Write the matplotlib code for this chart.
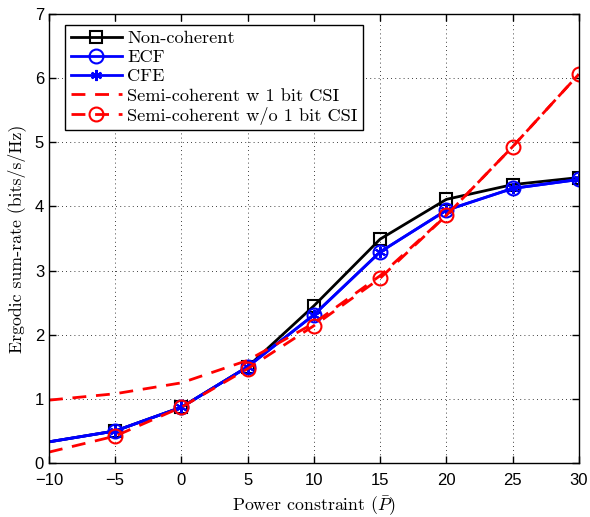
import matplotlib
matplotlib.use("Agg")
import matplotlib.pyplot as plt

x = [-10, -5, 0, 5, 10, 15, 20, 25, 30]
non_coherent = [0.33, 0.50, 0.87, 1.50, 2.45, 3.49, 4.11, 4.34, 4.45]
ecf = [0.33, 0.50, 0.87, 1.50, 2.31, 3.29, 3.94, 4.28, 4.42]
cfe = [0.33, 0.50, 0.87, 1.50, 2.31, 3.29, 3.94, 4.28, 4.42]
semi_w = [0.98, 1.08, 1.25, 1.60, 2.18, 2.92, 3.86, 4.93, 6.06]
semi_wo = [0.17, 0.42, 0.87, 1.47, 2.14, 2.88, 3.86, 4.93, 6.06]

xticks = [-10, -5, 0, 5, 10, 15, 20, 25, 30]
yticks = [0, 1, 2, 3, 4, 5, 6, 7]

plt.rcParams['mathtext.fontset'] = 'cm'
serif = ['cmr10', 'DejaVu Serif']

fig = plt.figure(figsize=(5.9, 5.17), dpi=100)
ax = fig.add_axes([0.083, 0.1044, 0.898, 0.8686])

me = list(range(1, len(x)))
ax.plot(x, non_coherent, '-', color='black', lw=2, marker='s', ms=9, mfc='none', mew=1.5,
        markevery=me, label='Non-coherent')
ax.plot(x, ecf, '-', color='blue', lw=2, marker='o', ms=10, mfc='none', mew=1.5,
        markevery=me, label='ECF')
ax.plot(x, cfe, '-', color='blue', lw=2, marker=(6, 2, 0), ms=8, mew=1.5,
        markevery=me, label='CFE')
ax.plot(x, semi_w, '--', color='red', lw=2, dashes=(5, 3.5), label='Semi-coherent w 1 bit CSI')
ax.plot(x, semi_wo, '--', color='red', lw=2, dashes=(5, 3.5), marker='o', ms=10, mfc='none',
        mew=1.5, markevery=me, label='Semi-coherent w/o 1 bit CSI')

ax.set_xlim(-10, 30)
ax.set_ylim(0, 7)
ax.set_xticks(xticks)
ax.set_yticks(yticks)
ax.set_xticklabels(['\u221210' if v == -10 else ('\u22125' if v == -5 else str(v)) for v in xticks],
                   family='Liberation Sans', fontsize=12)
ax.set_yticklabels([str(v) for v in yticks], family='Liberation Sans', fontsize=12)
ax.tick_params(direction='in', top=True, right=True, length=5, width=1)
ax.tick_params(axis='x', pad=7)
ax.grid(True, color='black', linestyle=(0, (1, 4)), linewidth=0.6)
for s in ax.spines.values():
    s.set_linewidth(1.0)

ax.set_xlabel(r'Power constraint ($\bar{P}$)', family=serif, fontsize=12.8, labelpad=5)
ax.set_ylabel('Ergodic sum-rate (bits/s/Hz)', family=serif, fontsize=12.8, labelpad=6)

leg = ax.legend(loc='upper left', bbox_to_anchor=(0.02, 0.988), prop={'family': serif, 'size': 13.2},
                frameon=True, fancybox=False, edgecolor='black', framealpha=1,
                handlelength=2.8, borderpad=0.3, labelspacing=0.18, handletextpad=0.3,
                borderaxespad=0.3)
leg.get_frame().set_linewidth(1.0)

fig.savefig('out.png', dpi=100)
